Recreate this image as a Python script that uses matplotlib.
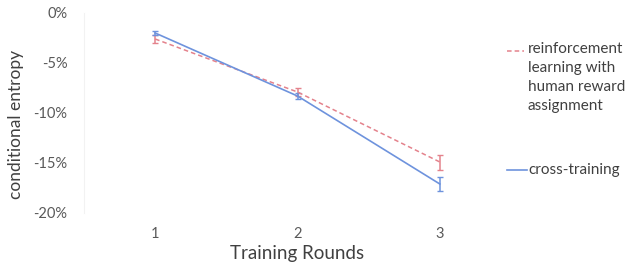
import numpy as np
import matplotlib.pyplot as plt
from matplotlib.lines import Line2D
from matplotlib.ticker import FuncFormatter

rounds = [1, 2, 3]
rl_values = [-2.6, -7.9, -14.9]
rl_err = [0.4, 0.4, 0.75]
ct_values = [-2.0, -8.3, -17.1]
ct_err = [0.2, 0.3, 0.7]
rl_label = "reinforcement\nlearning with\nhuman reward\nassignment"
ct_label = "cross-training"

RED = "#E4828C"
BLUE = "#6E93DD"
GREY = "#595959"
TEXT = "#404040"

plt.rcParams["font.family"] = ["Lato", "DejaVu Sans"]

fig = plt.figure(figsize=(6.3, 2.73), dpi=100)
ax = fig.add_axes([84 / 630, 1 - 213 / 273, (511 - 84) / 630, 200 / 273])

ax.errorbar(rounds, rl_values, yerr=rl_err, color=RED, linestyle="--",
            linewidth=1.1, capsize=2, elinewidth=1.1, dashes=(3, 2))
ax.errorbar(rounds, ct_values, yerr=ct_err, color=BLUE, linestyle="-",
            linewidth=1.2, capsize=2, elinewidth=1.1)

ax.set_xlim(0.5, 3.5)
ax.set_ylim(-20, 0)
ax.set_xticks(rounds)
ax.set_yticks([0, -5, -10, -15, -20])
ax.yaxis.set_major_formatter(FuncFormatter(lambda v, p: f"{v:.0f}%"))
ax.tick_params(axis="y", length=0, labelsize=10.5, colors=GREY, pad=12)
ax.tick_params(axis="x", length=0, labelsize=10.5, colors=GREY, pad=10)
for s in ["top", "right", "bottom"]:
    ax.spines[s].set_visible(False)
ax.spines["left"].set_color("#F2F2F2")

ax.set_xlabel("Training Rounds", fontsize=13.5, color=TEXT, labelpad=3)
fig.text(16 / 630, 1 - 124 / 273, "conditional entropy", rotation=90,
         fontsize=12.5, color=TEXT, ha="center", va="center")

# legend drawn by hand so handle sits on the first text line
fig.add_artist(Line2D([507 / 630, 524 / 630], [1 - 51 / 273] * 2,
                      color=RED, linestyle="--", linewidth=1.1, dashes=(3, 2)))
fig.text(528 / 630, 1 - 42 / 273, rl_label, fontsize=11, color=TEXT,
         va="top", ha="left", linespacing=1.45)
fig.add_artist(Line2D([507 / 630, 527 / 630], [1 - 170 / 273] * 2,
                      color=BLUE, linewidth=1.2))
fig.text(528 / 630, 1 - 170 / 273, ct_label, fontsize=11, color=TEXT,
         va="center", ha="left")

fig.savefig("out.png", dpi=100)
